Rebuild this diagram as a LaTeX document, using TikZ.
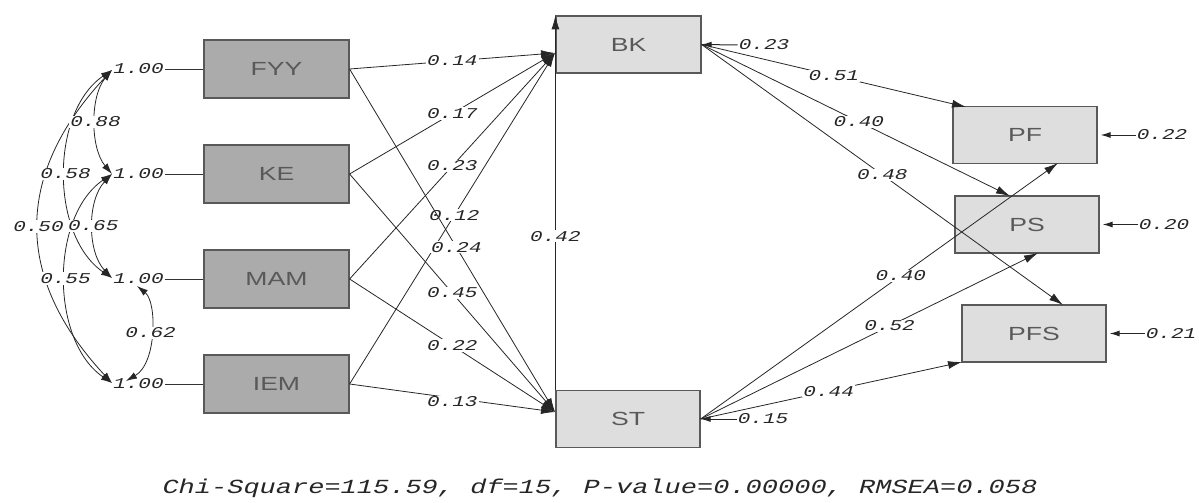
\documentclass[tikz,border=0pt]{standalone}
\usepackage{fontspec}
\usetikzlibrary{arrows.meta}
\newfontfamily\boxfont[FakeStretch=1.4]{Liberation Sans}
\newfontfamily\numfont[FakeStretch=1.4]{Liberation Mono}
\newfontfamily\fitfont[FakeStretch=1.35]{Liberation Mono}
\begin{document}
\begin{tikzpicture}[x=1pt,y=-1pt,
 lv/.style={draw=black!65, line width=1.2pt, fill=black!33, minimum width=145pt, minimum height=58pt, font=\boxfont\fontsize{19}{19}\selectfont, text=black!65, inner sep=0pt},
 rv/.style={lv, fill=black!13, minimum width=144pt, minimum height=57pt},
 lbl/.style={font=\numfont\itshape\fontsize{15}{15}\selectfont, text=black!85, inner sep=1pt},
 lblw/.style={lbl, fill=white},
 pth/.style={line width=0.8pt, draw=black!85, -{Latex[length=14pt,width=8pt]}},
 cov/.style={line width=0.8pt, draw=black!85, {Latex[length=11pt,width=7pt]}-{Latex[length=11pt,width=7pt]}},
 err/.style={line width=1pt, draw=black!85, -{Latex[length=10pt,width=6pt]}},
]
\useasboundingbox (0,0) rectangle (1199,503);

% latent/observed boxes
\node[lv] (FYY) at (276.5,69) {FYY};
\node[lv] (KE)  at (276.5,174) {KE};
\node[lv] (MAM) at (276.5,279) {MAM};
\node[lv] (IEM) at (276.5,384) {IEM};
\node[rv, minimum width=145pt] (BK) at (628.5,44.5) {BK};
\node[rv] (ST) at (628,419) {ST};
\node[rv] (PF) at (1025,135) {PF};
\node[rv] (PS) at (1027,224.5) {PS};
\node[rv] (PFS) at (1034,333.5) {PFS};

% variances
\node[lbl] (v1) at (138.5,69) {1.00};
\node[lbl] (v2) at (138.5,174) {1.00};
\node[lbl] (v3) at (138.5,279) {1.00};
\node[lbl] (v4) at (138.5,384) {1.00};
\draw[line width=0.8pt, black!80] (v1.east) -- (FYY.west);
\draw[line width=0.8pt, black!80] (v2.east) -- (KE.west);
\draw[line width=0.8pt, black!80] (v3.east) -- (MAM.west);
\draw[line width=0.8pt, black!80] (v4.east) -- (IEM.west);

% covariance end points
\coordinate (cF) at (112,70);
\coordinate (cK) at (112,174);
\coordinate (cM) at (112,278);
\coordinate (cI) at (112,383);
\coordinate (cM2) at (137,286);
\coordinate (cI2) at (126,381);

\draw[cov] (cF) .. controls (14,175) and (14,278) .. node[lblw] (c50) {0.50} (cI);
\draw[cov] (cF) .. controls (50,112) and (50,236) .. node[lblw] (c58) {0.58} (cM);
\draw[cov] (cK) .. controls (50,216) and (50,341) .. node[lblw] (c55) {0.55} (cI);
\draw[cov] (cK) .. controls (87,200) and (87,252) .. node[lblw] (c65) {0.65} (cM);
\draw[cov] (cF) .. controls (90,96) and (90,148) .. node[lblw] (c88) {0.88} (cK);
\draw[cov] (cM2) .. controls (157,302) and (157,363) .. node[lblw] (c62) {0.62} (cI2);

% inputs to BK and ST
\coordinate (bkin) at (555,53);
\coordinate (stin) at (555,412);
\draw[pth] (FYY.east) -- node[lblw] {0.14} (bkin);
\draw[pth] (KE.east)  -- node[lblw] {0.17} (bkin);
\draw[pth] (MAM.east) -- node[lblw] {0.23} (bkin);
\draw[pth] (IEM.east) -- node[lblw, pos=0.51] {0.12} (bkin);
\draw[pth] (FYY.east) -- node[lblw, pos=0.52] {0.24} (stin);
\draw[pth] (KE.east)  -- node[lblw] {0.45} (stin);
\draw[pth] (MAM.east) -- node[lblw] {0.22} (stin);
\draw[pth] (IEM.east) -- node[lblw, pos=0.5, yshift=-4pt] {0.13} (stin);

% ST -> BK
\draw[pth] (ST.north west) -- node[lblw, pos=0.41] {0.42} (BK.north west);

% outputs
\coordinate (pfin) at (966,107);
\coordinate (psin) at (1010,196);
\coordinate (pfsin) at (1063,305);
\coordinate (pfin2) at (1058,163);
\coordinate (psin2) at (1038,253);
\coordinate (pfsin2) at (962,362);
\draw[pth] (BK.east) -- node[lblw, pos=0.5] {0.51} (pfin);
\draw[pth] (BK.east) -- node[lblw, pos=0.51] {0.40} (psin);
\draw[pth] (BK.east) -- node[lblw, pos=0.5] {0.48} (pfsin);
\draw[pth] (ST.east) -- node[lblw, pos=0.56] {0.40} (pfin2);
\draw[pth] (ST.east) -- node[lblw, pos=0.56] {0.52} (psin2);
\draw[pth] (ST.east) -- node[lblw, pos=0.49] {0.44} (pfsin2);

% error terms
\node[lbl] (eBK) at (764,45) {0.23};
\node[lbl] (eST) at (763,419) {0.15};
\node[lbl] (ePF) at (1162,135) {0.22};
\node[lbl] (ePS) at (1164,224.5) {0.20};
\node[lbl] (ePFS) at (1171,333.5) {0.21};
\draw[err] (eBK.west) -- (BK.east);
\draw[err] (eST.west) -- (ST.east);
\draw[err] (ePF.west) -- ([xshift=3pt]PF.east);
\draw[err] (ePS.west) -- ([xshift=3pt]PS.east);
\draw[err] (ePFS.west) -- ([xshift=3pt]PFS.east);

% fit statistics
\node[font=\fitfont\itshape\fontsize{20}{20}\selectfont, text=black!85] (fit) at (600,488) {Chi-Square=115.59, df=15, P-value=0.00000, RMSEA=0.058};
\end{tikzpicture}
\end{document}
